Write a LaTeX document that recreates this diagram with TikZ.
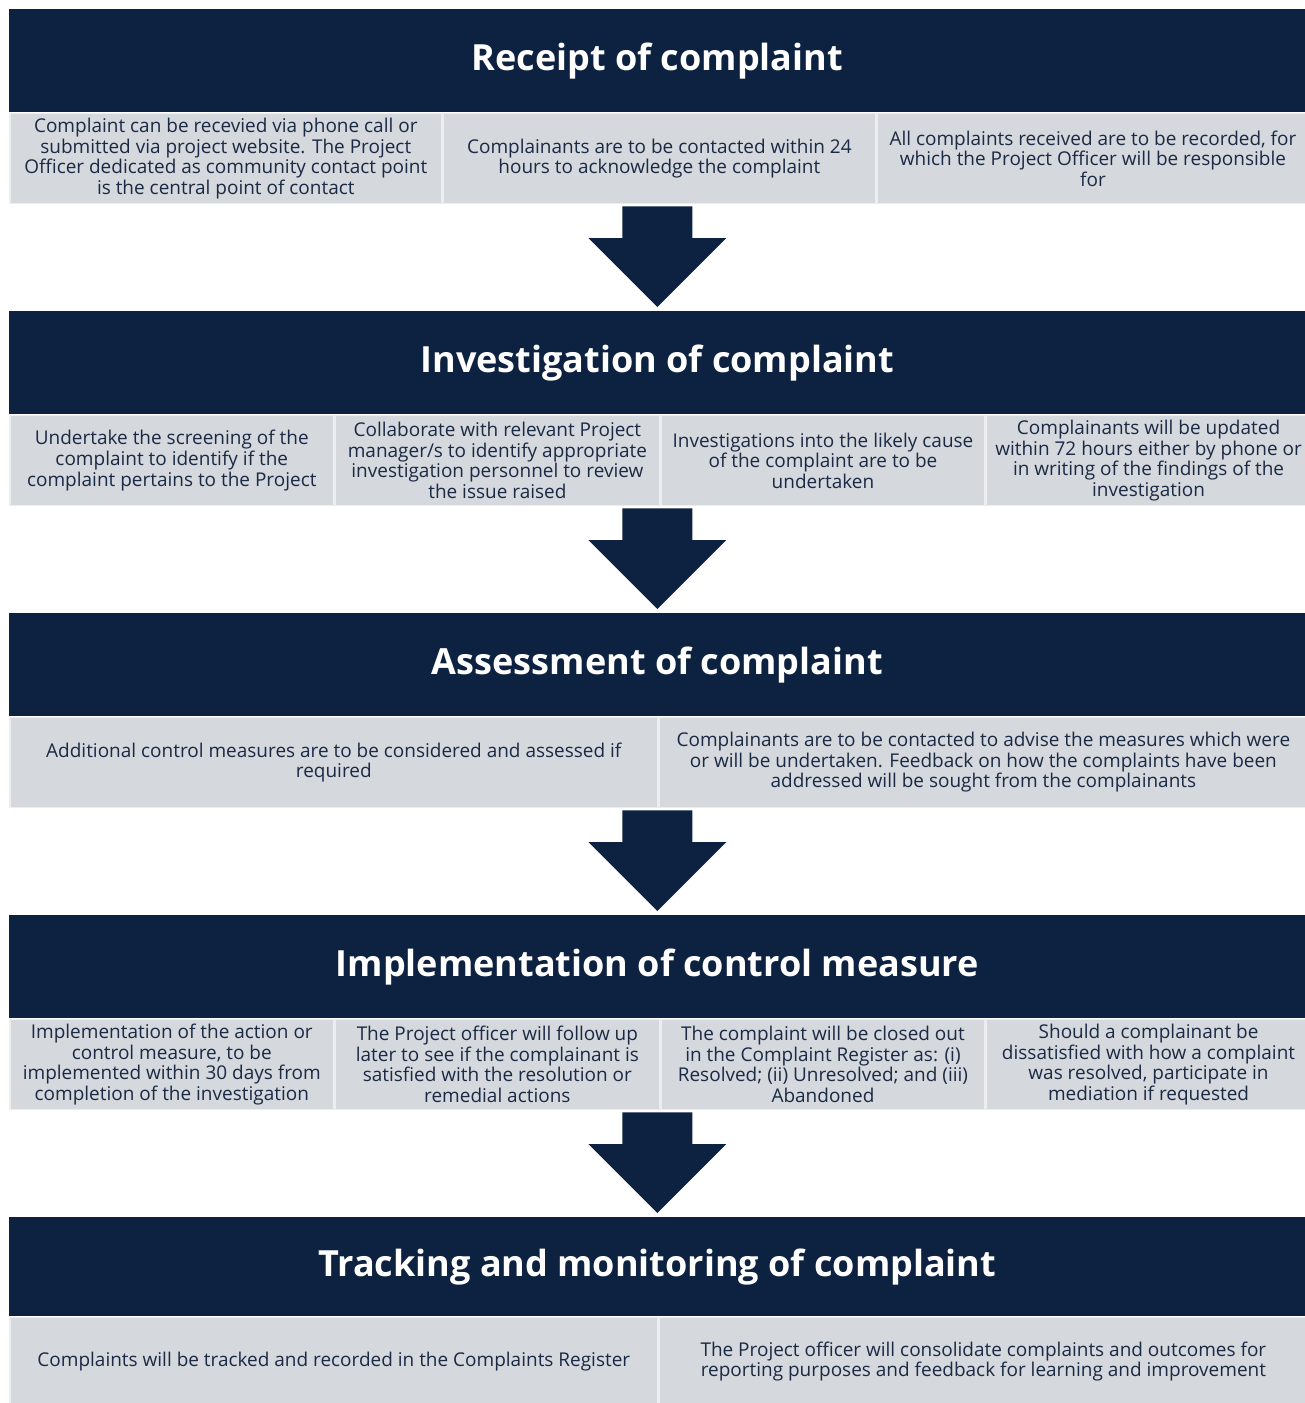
\documentclass[tikz,border=0pt]{standalone}
\usepackage{fontspec}
\setmainfont{Open Sans}
\usepackage{tikz}
\usetikzlibrary{
  positioning,
  calc
}
\definecolor{cpNavy}{HTML}{0D2240}
\definecolor{cpCell}{HTML}{D5D8DD}
\definecolor{cpText}{HTML}{1B2A44}
\definecolor{cpLine}{HTML}{ECEDEF}
\tikzset{
  stage/.style={
    fill=cpNavy, text=white, minimum width=25.92cm, minimum height=2.06cm,
    inner sep=0pt, anchor=north west, font=\fontsize{20.5}{24}\selectfont\bfseries
  },
  cell/.style={
    fill=cpCell, draw=cpLine, line width=0.9pt, text=cpText, minimum height=1.8cm,
    inner sep=0pt, align=center, anchor=north west, font=\fontsize{10.8}{11.7}\selectfont
  },
  cellthree/.style={cell, minimum width=8.64cm},
  cellfour/.style={cell, minimum width=6.48cm},
  celltwo/.style={cell, minimum width=12.96cm},
  blockarrow/.style={fill=cpNavy}
}

\begin{document}
\begin{tikzpicture}
  \useasboundingbox[fill=white] (0,0) rectangle (26.1,-28.06);

  % receipt
  \node[stage] (h1) at (0.18,-0.18) {Receipt of complaint};
  \node[cellthree] (r1a) at (h1.south west) {Complaint can be recevied via phone call or\\ submitted via project website. The Project\\ Officer dedicated as community contact point\\ is the central point of contact};
  \node[cellthree] (r1b) at (r1a.north east) {Complainants are to be contacted within 24\\ hours to acknowledge the complaint};
  \node[cellthree] (r1c) at (r1b.north east) {All complaints received are to be recorded, for\\ which the Project Officer will be responsible\\ for};

  % investigation
  \node[stage] (h2) at (0.18,-6.22) {Investigation of complaint};
  \node[cellfour] (r2a) at (h2.south west) {Undertake the screening of the\\ complaint to identify if the\\ complaint pertains to the Project};
  \node[cellfour] (r2b) at (r2a.north east) {Collaborate with relevant Project\\ manager/s to identify appropriate\\ investigation personnel to review\\ the issue raised};
  \node[cellfour] (r2c) at (r2b.north east) {Investigations into the likely cause\\ of the complaint are to be\\ undertaken};
  \node[cellfour] (r2d) at (r2c.north east) {Complainants will be updated\\ within 72 hours either by phone or\\ in writing of the findings of the\\ investigation};

  % assessment
  \node[stage] (h3) at (0.18,-12.26) {Assessment of complaint};
  \node[celltwo] (r3a) at (h3.south west) {Additional control measures are to be considered and assessed if\\ required};
  \node[celltwo] (r3b) at (r3a.north east) {Complainants are to be contacted to advise the measures which were\\ or will be undertaken. Feedback on how the complaints have been\\ addressed will be sought from the complainants};

  % implementation
  \node[stage] (h4) at (0.18,-18.30) {Implementation of control measure};
  \node[cellfour] (r4a) at (h4.south west) {Implementation of the action or\\ control measure, to be\\ implemented within 30 days from\\ completion of the investigation};
  \node[cellfour] (r4b) at (r4a.north east) {The Project officer will follow up\\ later to see if the complainant is\\ satisfied with the resolution or\\ remedial actions};
  \node[cellfour] (r4c) at (r4b.north east) {The complaint will be closed out\\ in the Complaint Register as: (i)\\ Resolved; (ii) Unresolved; and (iii)\\ Abandoned};
  \node[cellfour] (r4d) at (r4c.north east) {Should a complainant be\\ dissatisfied with how a complaint\\ was resolved, participate in\\ mediation if requested};

  % tracking
  \node[stage, minimum height=1.98cm] (h5) at (0.18,-24.34) {Tracking and monitoring of complaint};
  \node[celltwo, minimum height=1.76cm] (r5a) at (h5.south west) {Complaints will be tracked and recorded in the Complaints Register};
  \node[celltwo, minimum height=1.76cm] (r5b) at (r5a.north east) {The Project officer will consolidate complaints and outcomes for\\ reporting purposes and feedback for learning and improvement};

  % block arrows between stages
  \foreach \s/\t in {r1b/h2, r2b/h3, r3a/h4, r4b/h5} {
    \coordinate (top) at ($(\t.north |- \s.south)+(0,-0.04)$);
    \coordinate (tip) at ($(\t.north)+(0,0.08)$);
    \fill[blockarrow] ($(top)+(-0.7,0)$) -- ($(top)+(0.7,0)$) -- ($(tip)+(0.7,1.38)$)
      -- ($(tip)+(1.38,1.38)$) -- (tip) -- ($(tip)+(-1.38,1.38)$) -- ($(tip)+(-0.7,1.38)$) -- cycle;
  }
\end{tikzpicture}
\end{document}
